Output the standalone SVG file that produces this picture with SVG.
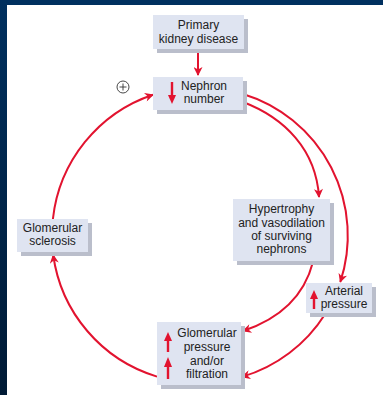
<svg xmlns="http://www.w3.org/2000/svg" width="383" height="395" viewBox="0 0 383 395">
<defs>
<linearGradient id="lb" x1="0" y1="0" x2="0" y2="1"><stop offset="0" stop-color="#00305f"/><stop offset="1" stop-color="#001a35"/></linearGradient>
<marker id="ah" viewBox="0 0 10 10" refX="9" refY="5" markerWidth="10" markerHeight="9" markerUnits="userSpaceOnUse" orient="auto"><path d="M0,0 L10,5 L0,10 L3,5 z" fill="#e2132f"/></marker>
</defs>
<style>
.bx{fill:#dfe4f1}
.sh{fill:#babecb}
.t{font-family:"Liberation Sans",Arial,sans-serif;font-size:12px;fill:#222;text-anchor:middle}
.c{fill:none;stroke:#e2132f;stroke-width:2}
.ia{stroke:#e2132f;stroke-width:2.4}
.ih{fill:#e2132f}
</style>
<rect width="383" height="395" fill="#fff"/>
<rect x="0" y="0" width="383" height="5" fill="#00305f"/>
<rect x="0" y="0" width="7" height="395" fill="url(#lb)"/>
<g id="connectors">
<line class="c" x1="198" y1="49" x2="198" y2="75" marker-end="url(#ah)"/>
<path class="c" d="M157,376.6 A148,148 0 0,1 53.2,255" marker-end="url(#ah)"/>
<path class="c" d="M52.9,219 A148,148 0 0,1 153,94.7" marker-end="url(#ah)"/>
<path class="c" d="M243,94 A148,148 0 0,1 340.3,282" marker-end="url(#ah)"/>
<path class="c" d="M325.2,314 A148,148 0 0,1 242,376.9" marker-end="url(#ah)"/>
<path class="c" d="M243,102 C285,118 316,150 319,197" marker-end="url(#ah)"/>
<path class="c" d="M313,262 Q300,312 243,331" marker-end="url(#ah)"/>
</g>
<g id="plus">
<circle cx="123" cy="87" r="6" fill="#fff" stroke="#333" stroke-width="0.9"/>
<path d="M119.5,87 H126.5 M123,83.5 V90.5" stroke="#333" stroke-width="0.9"/>
</g>
<g id="primary">
<rect class="sh" x="157" y="19" width="91" height="34"/>
<rect class="bx" x="153" y="15" width="91" height="34"/>
<text class="t" x="198.5" y="29">Primary</text>
<text class="t" x="198.5" y="43">kidney disease</text>
</g>
<g id="nephron">
<rect class="sh" x="157" y="81" width="90" height="33"/>
<rect class="bx" x="153" y="77" width="90" height="33"/>
<line class="ia" x1="172" y1="82" x2="172" y2="97"/>
<path class="ih" d="M168,95 L176,95 L172,104 z"/>
<text class="t" x="204" y="90">Nephron</text>
<text class="t" x="204" y="103">number</text>
</g>
<g id="sclerosis">
<rect class="sh" x="21" y="223" width="71" height="33"/>
<rect class="bx" x="17" y="219" width="71" height="33"/>
<text class="t" x="52.5" y="232">Glomerular</text>
<text class="t" x="52.5" y="245">sclerosis</text>
</g>
<g id="hypertrophy">
<rect class="sh" x="237" y="203" width="97" height="62"/>
<rect class="bx" x="233" y="199" width="97" height="62"/>
<text class="t" x="281.5" y="213">Hypertrophy</text>
<text class="t" x="281.5" y="227">and vasodilation</text>
<text class="t" x="281.5" y="240">of surviving</text>
<text class="t" x="281.5" y="253">nephrons</text>
</g>
<g id="arterial">
<rect class="sh" x="310" y="287" width="66" height="30"/>
<rect class="bx" x="306" y="283" width="66" height="30"/>
<line class="ia" x1="314" y1="309" x2="314" y2="297"/>
<path class="ih" d="M310,299 L318,299 L314,290 z"/>
<text class="t" x="344" y="295">Arterial</text>
<text class="t" x="344" y="308">pressure</text>
</g>
<g id="glomerular">
<rect class="sh" x="161" y="326" width="84" height="63"/>
<rect class="bx" x="157" y="322" width="84" height="63"/>
<line class="ia" x1="168" y1="352" x2="168" y2="339"/>
<path class="ih" d="M164,341 L172,341 L168,332 z"/>
<line class="ia" x1="168" y1="379" x2="168" y2="365"/>
<path class="ih" d="M164,367 L172,367 L168,357 z"/>
<text class="t" x="207" y="337">Glomerular</text>
<text class="t" x="207" y="351">pressure</text>
<text class="t" x="207" y="365">and/or</text>
<text class="t" x="207" y="378">filtration</text>
</g>
</svg>
